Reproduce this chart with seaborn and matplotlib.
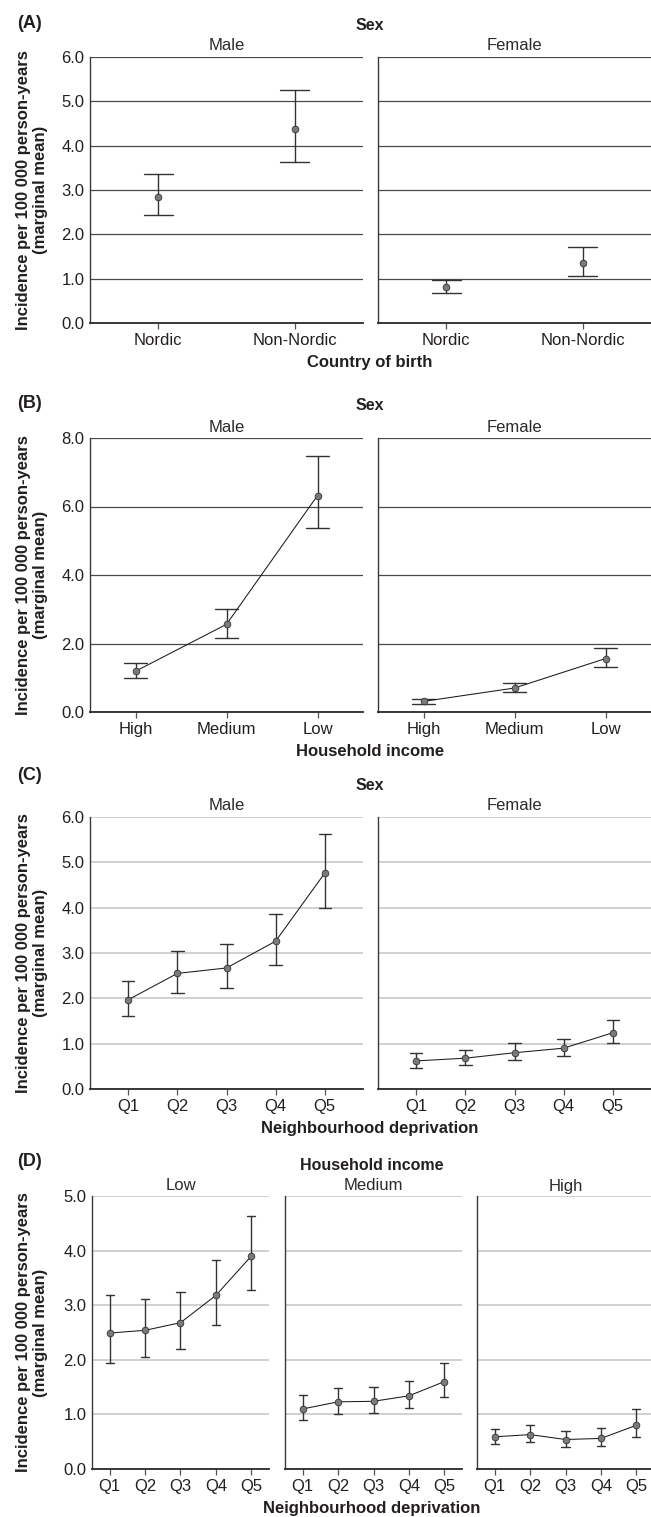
import matplotlib
matplotlib.use("Agg")
import matplotlib.pyplot as plt
import pandas as pd
import seaborn as sns

W, H = 651, 1517

# facet levels
sex_levels = ["Male", "Female"]
income_levels = ["Low", "Medium", "High"]

# (A) country of birth, by sex
birth_cats = ["Nordic", "Non-Nordic"]
a_est = [[2.85, 4.38], [0.81, 1.35]]
a_lo = [[2.43, 3.64], [0.68, 1.07]]
a_hi = [[3.35, 5.25], [0.98, 1.71]]

# (B) household income, by sex
income_cats = ["High", "Medium", "Low"]
b_est = [[1.19, 2.56, 6.32], [0.31, 0.70, 1.56]]
b_lo = [[1.00, 2.17, 5.37], [0.23, 0.59, 1.30]]
b_hi = [[1.44, 3.00, 7.46], [0.39, 0.85, 1.88]]

# (C) neighbourhood deprivation, by sex
depr_cats = ["Q1", "Q2", "Q3", "Q4", "Q5"]
c_est = [[1.97, 2.55, 2.67, 3.26, 4.76], [0.62, 0.68, 0.80, 0.90, 1.24]]
c_lo = [[1.62, 2.12, 2.23, 2.73, 4.00], [0.47, 0.53, 0.63, 0.72, 1.01]]
c_hi = [[2.38, 3.04, 3.19, 3.87, 5.63], [0.80, 0.86, 1.01, 1.11, 1.52]]

# (D) neighbourhood deprivation, by household income
d_est = [[2.49, 2.54, 2.68, 3.18, 3.90],
         [1.10, 1.23, 1.24, 1.34, 1.60],
         [0.59, 0.63, 0.54, 0.56, 0.80]]
d_lo = [[1.95, 2.06, 2.20, 2.64, 3.28],
        [0.90, 1.01, 1.02, 1.11, 1.32],
        [0.46, 0.49, 0.40, 0.42, 0.59]]
d_hi = [[3.19, 3.12, 3.25, 3.82, 4.64],
        [1.36, 1.49, 1.50, 1.62, 1.94],
        [0.74, 0.80, 0.70, 0.75, 1.09]]

sns.set_style("white")
plt.rcParams["font.family"] = ["Liberation Sans", "DejaVu Sans"]
TXT = "#231f20"
plt.rcParams["text.color"] = TXT
plt.rcParams["xtick.color"] = "#555555"
plt.rcParams["xtick.labelcolor"] = TXT
plt.rcParams["ytick.labelcolor"] = TXT

fig = plt.figure(figsize=(W / 100, H / 100), dpi=100)


def px_axes(left, top, right, bottom):
    return fig.add_axes([left / W, 1 - bottom / H, (right - left) / W, (bottom - top) / H])


def ftext(x, y, s, **kw):
    fig.text(x / W, 1 - y / H, s, ha="center", va="center", **kw)


def long_frame(cats, est, lo, hi):
    rows = []
    for c, e, l, h in zip(cats, est, lo, hi):
        for v in (l, e, h):
            rows.append({"cat": c, "value": v})
    return pd.DataFrame(rows)


def draw_panel(ax, cats, est, lo, hi, ymax, ystep, xpad, capsize, connect,
               grid_color, grid_lw, show_y):
    df = long_frame(cats, est, lo, hi)
    # median of (lo, est, hi) is the estimate, full range gives the interval
    sns.pointplot(data=df, x="cat", y="value", order=cats, estimator="median",
                  errorbar=("pi", 100), capsize=capsize, color="#1a1a1a",
                  linestyles="-" if connect else "none", markers="o",
                  markersize=4.8, markeredgewidth=0.6, linewidth=0.75,
                  markerfacecolor="#7a7a7a", markeredgecolor="#333333",
                  err_kws={"color": "#333333", "linewidth": 1.0, "zorder": 1.5},
                  ax=ax)
    ax.set_xlim(-xpad, len(cats) - 1 + xpad)
    ax.set_ylim(0, ymax)
    ticks = [i * ystep for i in range(int(round(ymax / ystep)) + 1)]
    ax.set_yticks(ticks)
    ax.set_yticklabels([f"{t:.1f}" for t in ticks] if show_y else [])
    ax.set_xlabel("")
    ax.set_ylabel("")
    ax.yaxis.grid(True, color=grid_color, linewidth=grid_lw)
    ax.xaxis.grid(False)
    ax.set_axisbelow(True)
    for s in ["top", "right"]:
        ax.spines[s].set_visible(False)
    ax.spines["left"].set_color("#3a3a3a")
    ax.spines["left"].set_linewidth(1.0)
    ax.spines["bottom"].set_color("#2a2a2a")
    ax.spines["bottom"].set_linewidth(1.3)
    ax.tick_params(axis="y", length=0, pad=4, labelsize=12)
    ax.tick_params(axis="x", length=4, width=0.9, pad=3, labelsize=12, bottom=True)


ylab = "Incidence per 100 000 person-years\n(marginal mean)"
dark_grid = ("#4a4a4a", 0.9)
light_grid = ("#c4c4c4", 1.1)
two_cols = [(90, 363), (378, 651)]

rows = [
    ("(A)", 57, 323, birth_cats, a_est, a_lo, a_hi, 6, 1, 0.5, 0.21, False, dark_grid,
     "Country of birth", 24, 25, 45, 363),
    ("(B)", 438, 712, income_cats, b_est, b_lo, b_hi, 8, 2, 0.5, 0.26, True, dark_grid,
     "Household income", 403, 406, 427, 752),
    ("(C)", 817, 1089, depr_cats, c_est, c_lo, c_hi, 6, 1, 0.78, 0.25, True, light_grid,
     "Neighbourhood deprivation", 775, 785, 806, 1129),
]

for (tag, top, bot, cats, est, lo, hi, ymax, ystep, xpad, cap, connect, grid,
     xlab, y_tag, y_strip, y_fac, y_xlab) in rows:
    for i, (l, r) in enumerate(two_cols):
        ax = px_axes(l, top, r, bot)
        draw_panel(ax, cats, est[i], lo[i], hi[i], ymax, ystep, xpad, cap, connect,
                   grid[0], grid[1], show_y=(i == 0))
        ftext((l + r) / 2, y_fac, sex_levels[i], fontsize=12, color="#2b2b2b")
    ftext(30, y_tag, tag, fontsize=13, fontweight="bold")
    ftext(370, y_strip, "Sex", fontsize=11.5, fontweight="bold")
    ftext(370, y_xlab, xlab, fontsize=12, fontweight="bold")
    ftext(32, (top + bot) / 2, ylab, fontsize=12, fontweight="bold", rotation=90,
          multialignment="center", linespacing=1.15)

# (D) three income facets
d_cols = [(92, 269), (285, 462), (477, 654)]
for i, (l, r) in enumerate(d_cols):
    ax = px_axes(l, 1196, r, 1469)
    draw_panel(ax, depr_cats, d_est[i], d_lo[i], d_hi[i], 5, 1, 0.5, 0.23, True,
               light_grid[0], light_grid[1], show_y=(i == 0))
    ftext((l + r) / 2, 1186, income_levels[i], fontsize=12, color="#2b2b2b")
ftext(30, 1162, "(D)", fontsize=13, fontweight="bold")
ftext(372, 1165, "Household income", fontsize=11.5, fontweight="bold")
ftext(372, 1508, "Neighbourhood deprivation", fontsize=12, fontweight="bold")
ftext(32, (1196 + 1469) / 2, ylab, fontsize=12, fontweight="bold", rotation=90,
      multialignment="center", linespacing=1.15)

fig.savefig("out.png", dpi=100, facecolor="white")
